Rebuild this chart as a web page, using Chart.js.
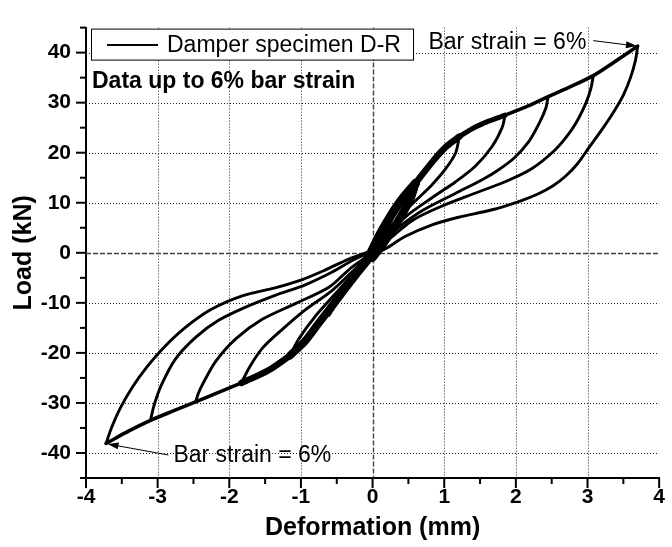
<!DOCTYPE html>
<html lang="en">
<head>
<meta charset="UTF-8" />
<title>Damper specimen D-R</title>
<script src="https://cdn.jsdelivr.net/npm/chart.js"></script>
<style>
  body { margin: 0; padding: 0; background: #fff; }
  #chart { display: block; }
</style>
</head>
<body>
<canvas id="chart" width="672" height="547"></canvas>
<script>
  // loading (backbone) curves, [deformation mm, load kN]
  const envelopePos = [[-0.05,-0.8],[0.14,4.6],[0.37,9.9],[0.60,13.9],[0.83,18.1],[1.02,21.1],[1.21,23.2],
    [1.39,24.8],[1.62,26.3],[1.85,27.5],[2.18,29.4],[2.45,31.2],[2.78,33.3],[3.08,35.4],[3.38,38.2],[3.70,41.3]];
  const envelopeNeg = [[0.05,0.6],[-0.20,-3.8],[-0.39,-7.3],[-0.57,-10.7],[-0.76,-14.2],[-0.94,-17.6],[-1.15,-20.5],
    [-1.41,-23.1],[-1.64,-24.8],[-1.83,-26.0],[-2.15,-27.9],[-2.47,-29.8],[-2.80,-31.7],[-3.10,-33.5],[-3.40,-35.6],[-3.72,-38.1]];

  // unloading from the positive peaks back to the origin
  const unloadPos1 = [[1.21,23.2],[1.16,20.0],[1.02,16.8],[0.83,13.6],[0.60,10.4],[0.37,7.2],[0.14,3.3],[0,1.0]];
  const unloadPos2 = [[1.85,27.5],[1.81,25.1],[1.67,21.3],[1.44,17.4],[1.16,14.2],[0.83,11.0],[0.46,7.2],[0.19,3.3],[0,0.5]];
  const unloadPos3 = [[2.45,31.2],[2.42,29.0],[2.33,26.0],[2.18,22.2],[1.98,19.0],[1.75,16.5],[1.53,14.6],[1.16,11.9],
    [0.69,8.4],[0.32,4.6],[0,0.5]];
  const unloadPos4 = [[3.08,35.4],[3.05,33.0],[2.98,30.0],[2.88,27.0],[2.75,24.0],[2.55,20.6],[2.22,16.8],[1.85,14.2],
    [1.39,11.7],[0.93,9.1],[0.56,6.5],[0.23,2.7],[0,0]];
  const unloadPos5 = [[3.70,41.3],[3.67,38.5],[3.60,35.0],[3.50,31.5],[3.38,28.5],[3.22,25.0],[3.02,21.0],[2.86,17.8],
    [2.70,15.4],[2.52,13.4],[2.30,11.7],[2.05,10.3],[1.67,8.6],[1.20,7.1],[0.83,5.6],[0.46,3.3],[0.19,0.9],[0,-0.5]];

  // unloading from the negative peaks back to the origin
  const unloadNeg1 = [[-1.15,-20.5],[-1.03,-17.2],[-0.80,-12.7],[-0.52,-8.2],[-0.24,-3.7],[0,0.3]];
  const unloadNeg2 = [[-1.83,-26.0],[-1.72,-22.9],[-1.54,-19.1],[-1.26,-15.3],[-0.94,-11.4],[-0.57,-7.6],[-0.30,-4.0],[0,0]];
  const unloadNeg3 = [[-2.47,-29.8],[-2.43,-28.0],[-2.37,-26.2],[-2.19,-21.7],[-1.91,-17.2],[-1.54,-13.3],[-1.07,-10.1],
    [-0.61,-6.9],[-0.30,-3.0],[0,0]];
  const unloadNeg4 = [[-3.10,-33.5],[-3.05,-30.5],[-2.95,-26.5],[-2.75,-21.2],[-2.47,-16.9],[-2.15,-13.5],[-1.78,-10.9],
    [-1.36,-8.5],[-0.94,-6.4],[-0.57,-3.9],[-0.25,-1.3],[0,0.3]];
  const unloadNeg5 = [[-3.72,-38.1],[-3.64,-34.8],[-3.52,-31.0],[-3.36,-27.0],[-3.16,-23.0],[-2.92,-19.0],[-2.62,-15.0],
    [-2.25,-11.3],[-1.82,-8.6],[-1.36,-7.0],[-0.99,-5.4],[-0.67,-3.5],[-0.34,-1.3],[0,0.5]];

  // repeated small cycles (+-0.6 mm)
  const smallUnloadPos = [[0.60,13.9],[0.53,10.8],[0.35,6.2],[0.15,1.8],[0,-1.0]];
  const smallUnloadNeg = [[-0.62,-12.2],[-0.47,-8.8],[-0.27,-4.8],[-0.05,-0.2]];

  const xTickValues = [-4, -3, -2, -1, 0, 1, 2, 3, 4];
  const yTickValues = [-40, -30, -20, -10, 0, 10, 20, 30, 40];

  const seriesLabel = "Damper specimen D-R";
  const noteText = "Data up to 6% bar strain";
  const peakText = "Bar strain = 6%";

  const FONT = '"Liberation Sans", Arial, Helvetica, sans-serif';

  function branch(points, width, label) {
    return {
      label: label || "",
      data: points.map(p => ({ x: p[0], y: p[1] })),
      showLine: true,
      borderColor: "#000",
      backgroundColor: "#000",
      borderWidth: width,
      pointRadius: 0,
      tension: 0.3,
      borderCapStyle: "round",
      borderJoinStyle: "round",
    };
  }

  const datasets = [
    branch(envelopePos, 3.6, seriesLabel),
    branch(envelopeNeg, 3.6),
    // parts of the backbone retraced by the repeated cycles
    branch(envelopePos.slice(0, 4), 9),
    branch(envelopePos.slice(3, 7), 6.5),
    branch(envelopePos.slice(6, 10), 5),
    branch(envelopeNeg.slice(0, 7), 8),
    branch(envelopeNeg.slice(6, 10), 6.5),
    branch(unloadPos1, 2.9), branch(unloadPos2, 2.9), branch(unloadPos3, 2.9),
    branch(unloadPos4, 2.9), branch(unloadPos5, 2.9),
    branch(unloadNeg1, 2.9), branch(unloadNeg2, 2.9), branch(unloadNeg3, 2.9),
    branch(unloadNeg4, 2.9), branch(unloadNeg5, 2.9),
    branch(smallUnloadPos, 8), branch(smallUnloadNeg, 6),
  ];

  // grid lines and tick marks like the original plot
  const axisDecor = {
    id: "axisDecor",
    beforeDatasetsDraw(chart) {
      const { ctx, chartArea: a, scales: { x, y } } = chart;
      ctx.save();
      xTickValues.forEach(v => {
        if (v === x.min || v === x.max) return;
        const px = Math.round(x.getPixelForValue(v)) + 0.5;
        ctx.beginPath();
        if (v === 0) { ctx.setLineDash([5, 2]); ctx.lineWidth = 1.4; ctx.strokeStyle = "#444"; }
        else { ctx.setLineDash([1, 2]); ctx.lineWidth = 1; ctx.strokeStyle = "#222"; }
        ctx.moveTo(px, a.top);
        ctx.lineTo(px, a.bottom);
        ctx.stroke();
      });
      yTickValues.forEach(v => {
        const py = Math.round(y.getPixelForValue(v)) + 0.5;
        ctx.beginPath();
        if (v === 0) { ctx.setLineDash([5, 2]); ctx.lineWidth = 1.4; ctx.strokeStyle = "#444"; }
        else { ctx.setLineDash([1, 2]); ctx.lineWidth = 1; ctx.strokeStyle = "#222"; }
        ctx.moveTo(a.left, py);
        ctx.lineTo(a.right, py);
        ctx.stroke();
      });
      ctx.restore();
    },
    afterDraw(chart) {
      const { ctx, chartArea: a, scales: { x, y } } = chart;
      ctx.save();
      ctx.strokeStyle = "#000";
      ctx.lineWidth = 2;
      ctx.setLineDash([]);
      for (let v = x.min; v <= x.max + 1e-9; v += 0.5) {
        const px = x.getPixelForValue(v);
        const len = Number.isInteger(v) ? 10 : 6;
        ctx.beginPath();
        ctx.moveTo(px, a.bottom);
        ctx.lineTo(px, a.bottom + len);
        ctx.stroke();
      }
      for (let v = y.min; v <= y.max + 1e-9; v += 5) {
        const py = y.getPixelForValue(v);
        const len = v % 10 === 0 ? 10 : 6;
        ctx.beginPath();
        ctx.moveTo(a.left - len, py);
        ctx.lineTo(a.left, py);
        ctx.stroke();
      }
      ctx.restore();
    },
  };

  function arrow(ctx, x0, y0, x1, y1) {
    const ang = Math.atan2(y1 - y0, x1 - x0);
    ctx.beginPath();
    ctx.moveTo(x0, y0);
    ctx.lineTo(x1 - 8 * Math.cos(ang), y1 - 8 * Math.sin(ang));
    ctx.stroke();
    ctx.beginPath();
    ctx.moveTo(x1, y1);
    ctx.lineTo(x1 - 11 * Math.cos(ang) + 3.5 * Math.sin(ang), y1 - 11 * Math.sin(ang) - 3.5 * Math.cos(ang));
    ctx.lineTo(x1 - 11 * Math.cos(ang) - 3.5 * Math.sin(ang), y1 - 11 * Math.sin(ang) + 3.5 * Math.cos(ang));
    ctx.closePath();
    ctx.fill();
  }

  // legend box, note and the two arrows
  const notes = {
    id: "notes",
    afterDraw(chart) {
      const { ctx, chartArea: a, scales: { x, y } } = chart;
      ctx.save();
      ctx.fillStyle = "#000";
      ctx.strokeStyle = "#000";

      // legend
      const lx = a.left + 5, ly = a.top + 1;
      ctx.fillStyle = "#fff";
      ctx.fillRect(lx, ly, 322, 31);
      ctx.lineWidth = 1;
      ctx.strokeRect(lx + 0.5, ly + 0.5, 322, 31);
      ctx.lineWidth = 2;
      ctx.beginPath();
      ctx.moveTo(lx + 16, ly + 16.5);
      ctx.lineTo(lx + 67, ly + 16.5);
      ctx.stroke();
      ctx.fillStyle = "#000";
      ctx.font = "23px " + FONT;
      ctx.textBaseline = "middle";
      ctx.fillText(chart.data.datasets[0].label, lx + 76, ly + 17);

      ctx.textBaseline = "alphabetic";
      ctx.font = "bold 23px " + FONT;
      ctx.fillText(noteText, a.left + 6, a.top + 60);

      ctx.font = "23px " + FONT;
      ctx.fillText(peakText, x.getPixelForValue(0.78), y.getPixelForValue(40.8));
      ctx.fillText(peakText, x.getPixelForValue(-2.78), y.getPixelForValue(-41.9));

      ctx.lineWidth = 1;
      arrow(ctx, x.getPixelForValue(3.08), y.getPixelForValue(42.4), x.getPixelForValue(3.69), y.getPixelForValue(41.3));
      arrow(ctx, x.getPixelForValue(-2.85), y.getPixelForValue(-40.4), x.getPixelForValue(-3.70), y.getPixelForValue(-38.2));
      ctx.restore();
    },
  };

  new Chart(document.getElementById("chart"), {
    type: "scatter",
    data: { datasets: datasets },
    options: {
      responsive: false,
      animation: false,
      layout: { padding: { top: 10, right: 10, left: 0, bottom: 0 } },
      plugins: { legend: { display: false }, tooltip: { enabled: false } },
      scales: {
        x: {
          type: "linear",
          min: -4,
          max: 4,
          afterFit: s => { s.height = 69; },
          grid: { display: false, drawTicks: false },
          border: { display: true, color: "#000", width: 2 },
          ticks: {
            stepSize: 0.5,
            autoSkip: false,
            maxRotation: 0,
            padding: 7,
            color: "#000",
            font: { family: FONT, size: 21, weight: "bold" },
            callback: v => (Number.isInteger(v) && xTickValues.includes(v) ? String(v) : ""),
          },
          title: {
            display: true,
            text: "Deformation (mm)",
            color: "#000",
            font: { family: FONT, size: 25, weight: "bold" },
            padding: { top: 0, bottom: 4 },
          },
        },
        y: {
          type: "linear",
          min: -45,
          max: 45,
          afterFit: s => { s.width = 86; },
          grid: { display: false, drawTicks: false },
          border: { display: true, color: "#000", width: 2 },
          ticks: {
            stepSize: 5,
            autoSkip: false,
            padding: 15,
            color: "#000",
            font: { family: FONT, size: 21, weight: "bold" },
            callback: v => (yTickValues.includes(v) ? String(v) : ""),
          },
          title: {
            display: true,
            text: "Load (kN)",
            color: "#000",
            font: { family: FONT, size: 25, weight: "bold" },
            padding: { top: 9, bottom: 0 },
          },
        },
      },
    },
    plugins: [axisDecor, notes],
  });
</script>
</body>
</html>
